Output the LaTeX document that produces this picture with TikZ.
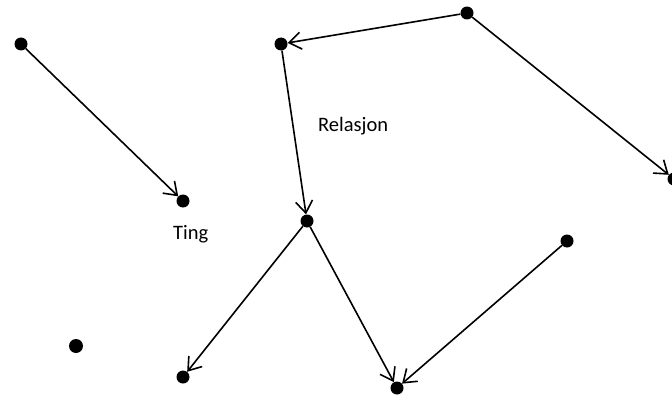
\documentclass[tikz,border=0pt]{standalone}
\usepackage{fontspec}
\setmainfont{Carlito}
\usetikzlibrary{arrows.meta}
\begin{document}
\begin{tikzpicture}[x=1pt,y=-1pt,
  dot/.style={circle,fill=black,inner sep=0pt,minimum width=13pt,minimum height=13pt},
  rel/.style={line width=1.6pt,-{Straight Barb[length=12pt,width=17pt,line width=1.6pt]}},
  lbl/.style={font=\fontsize{20.5}{24}\selectfont,inner sep=0pt,anchor=base west}]
\useasboundingbox (0,0) rectangle (672,396);
\clip (0,0) rectangle (672,396);
\node[dot] (A) at (21,44) {};
\node[dot] (B) at (183,201) {};
\node[dot] (C) at (281,44) {};
\node[dot] (D) at (467,13) {};
\node[dot] (E) at (307,221) {};
\node[dot] (F) at (674,179) {};
\node[dot] (G) at (183,377) {};
\node[dot] (H) at (397,388) {};
\node[dot] (I) at (567,241) {};
\node[dot,minimum height=14pt] (J) at (76,346) {};
\draw[rel] (A) -- (B);
\draw[rel] (D) -- (C);
\draw[rel] (C) -- (E);
\draw[rel] (D) -- (F);
\draw[rel] (E) -- (G);
\draw[rel] (E) -- (H);
\draw[rel] (I) -- (H);
\node[lbl] (rl) at (318,131) {Relasjon};
\node[lbl] (tl) at (173,239) {Ting};
\end{tikzpicture}
\end{document}
